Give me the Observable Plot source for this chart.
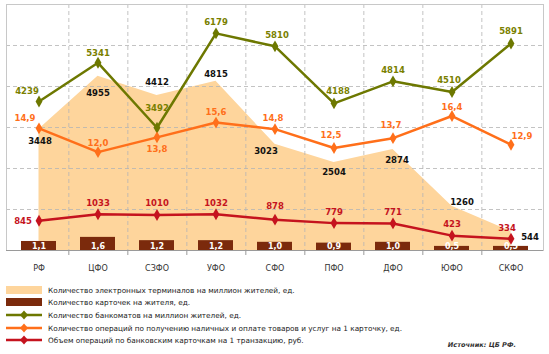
<!DOCTYPE html>
<html><head><meta charset="utf-8">
<script src="https://cdn.jsdelivr.net/npm/d3@7"></script>
<script src="https://cdn.jsdelivr.net/npm/@observablehq/plot@0.6"></script>
<style>
body{margin:0;background:#fff;font-family:"DejaVu Sans",sans-serif;}
#wrap{position:relative;width:549px;height:354px;overflow:hidden;}
#chart{position:absolute;left:0;top:0;}
.leg{position:absolute;left:6px;height:12px;display:flex;align-items:center;font-size:7.3px;color:#1a1a1a;white-space:nowrap;}
.sw{width:36px;height:12px;margin-right:6px;position:relative;}
.src{position:absolute;right:33px;top:341px;font-size:6.6px;font-style:italic;font-weight:bold;color:#333;}
</style></head><body>
<div id="wrap"><div id="chart"></div><div id="legend"></div><div class="src" id="src"></div></div>
<script>
const regions = ["РФ","ЦФО","СЗФО","УФО","СФО","ПФО","ДФО","ЮФО","СКФО"];
const terminals = [3448,4955,4412,4815,3023,2504,2874,1260,544];
const cards = [1.1,1.6,1.2,1.2,1.0,0.9,1.0,0.5,0.5];
const atms = [4239,5341,3492,6179,5810,4188,4814,4510,5891];
const operations = [14.9,12.0,13.8,15.6,14.8,12.5,13.7,16.4,12.9];
const volume = [845,1033,1010,1032,878,779,771,423,334];
const legendLabels = [
  "Количество электронных терминалов на миллион жителей, ед.",
  "Количество карточек на жителя, ед.",
  "Количество банкоматов на миллион жителей, ед.",
  "Количество операций по получению наличных и оплате товаров и услуг на 1 карточку, ед.",
  "Объем операций по банковским карточкам на 1 транзакцию, руб."
];
const source = "Источник: ЦБ РФ.";

// colors
const C = {area:"#fed59c", bar:"#7b2a0c", atm:"#6d7800", atmText:"#7a7f00", ops:"#ff6f1a", vol:"#c5131e", grid:"#b4b4b4"};

const K = 7000/30; // left (0..7000) vs right (0..30) unit ratio
const rows = regions.map((r,i)=>({region:r, terminals:terminals[i], cards:cards[i], atms:atms[i], ops:operations[i], vol:volume[i], i}));
const fmt1 = v => d3.format(".1f")(v).replace(".", ",");

// label offsets (px) per series
const atmOff = [[-12,-10],[0,-10],[0,-20],[0,-11],[2,-11],[4,-12],[0,-11],[-3,-12],[0,-12]];
const termOff = [[1,12],[0,17],[0,-13],[0,-7],[-9,7],[0,10],[4,11],[10,-4],[19,6]];
const opsOff = [[-14,-10],[0,-9],[0,12],[0,-10],[-2,-11],[-3,-13],[-2,-13],[0,-9],[11,-8]];
const volOff = [[-16,0],[0,-11],[0,-12],[0,-11],[0,-13],[0,-11],[0,-11],[0,-11],[-4,-10]];

const labelFont = {fontFamily:"DejaVu Sans", fontWeight:"bold", fontSize:8.5};
const labels = [];
rows.forEach((d,i)=>{
  labels.push(Plot.text([d],{x:"region", y:"atms", text:d=>String(d.atms), fill:C.atmText, dx:atmOff[i][0], dy:atmOff[i][1], ...labelFont}));
  labels.push(Plot.text([d],{x:"region", y:"terminals", text:d=>String(d.terminals), fill:"#111", dx:termOff[i][0], dy:termOff[i][1], ...labelFont}));
  labels.push(Plot.text([d],{x:"region", y:d=>d.ops*K, text:d=>fmt1(d.ops), fill:C.ops, dx:opsOff[i][0], dy:opsOff[i][1], ...labelFont}));
  labels.push(Plot.text([d],{x:"region", y:"vol", text:d=>String(d.vol), fill:C.vol, dx:volOff[i][0], dy:volOff[i][1], ...labelFont}));
});

const bounds = regions.slice(0,-1);
const bw = (549-6-6)/regions.length;
const gridTicks = d3.range(1,6).map(k=>k*7000/6);

const chart = Plot.plot({
  width:549, height:278,
  marginLeft:6, marginRight:6, marginTop:4, marginBottom:28,
  x:{type:"band", domain:regions, padding:0, axis:null},
  y:{domain:[0,7000], axis:null},
  style:{fontFamily:"DejaVu Sans", background:"#fff"},
  marks:[
    Plot.areaY(rows,{x:"region", y:"terminals", fill:C.area}),
    Plot.ruleY(gridTicks,{stroke:C.grid, strokeDasharray:"4,3", strokeWidth:0.8}),
    Plot.ruleX(bounds,{x:d=>d, dx:bw/2, stroke:C.grid, strokeDasharray:"4,3", strokeWidth:0.8}),
    Plot.frame({stroke:"#c8c8c8", strokeWidth:1}),
    Plot.ruleY([0],{stroke:"#9a9a9a", strokeWidth:1}),
    Plot.ruleX(bounds,{x:d=>d, dx:bw/2, y1:0, y2:0, insetBottom:-5, stroke:"#9a9a9a"}),
    Plot.barY(rows,{x:"region", y:d=>d.cards*K, fill:C.bar, insetLeft:12, insetRight:12}),
    Plot.text(rows,{x:"region", y:0, dy:-4.5, text:d=>fmt1(d.cards), fill:"#fff", ...labelFont, fontSize:8}),
    Plot.line(rows,{x:"region", y:"atms", stroke:C.atm, strokeWidth:2.5}),
    Plot.dot(rows,{x:"region", y:"atms", symbol:"diamond", r:3.6, fill:C.atm}),
    Plot.line(rows,{x:"region", y:d=>d.ops*K, stroke:C.ops, strokeWidth:2.5}),
    Plot.dot(rows,{x:"region", y:d=>d.ops*K, symbol:"diamond", r:3.6, fill:C.ops}),
    Plot.line(rows,{x:"region", y:"vol", stroke:C.vol, strokeWidth:2.5}),
    Plot.dot(rows,{x:"region", y:"vol", symbol:"diamond", r:3.6, fill:C.vol}),
    Plot.text(rows,{x:"region", y:0, dy:18, text:"region", fill:"#333", fontSize:8, fontFamily:"DejaVu Sans"}),
    ...labels
  ]
});
document.getElementById("chart").appendChild(chart);
document.getElementById("src").textContent = source;

// legend
const leg = document.getElementById("legend");
const legTops = [284,296,309,322,334];
const kinds = [["area",C.area],["bar",C.bar],["line",C.atm],["line",C.ops],["line",C.vol]];
legendLabels.forEach((t,i)=>{
  const row = document.createElement("div");
  row.className="leg"; row.style.top=legTops[i]+"px";
  const sw = document.createElement("div"); sw.className="sw";
  const [kind,col]=kinds[i];
  if(kind==="line"){
    sw.innerHTML=`<svg width="36" height="12"><line x1="0" x2="36" y1="6" y2="6" stroke="${col}" stroke-width="2.5"/><path d="M18,1.5L22,6L18,10.5L14,6Z" fill="${col}"/></svg>`;
  } else {
    sw.innerHTML=`<svg width="36" height="12"><rect x="0" y="2" width="36" height="8" fill="${col}"/></svg>`;
  }
  const tx=document.createElement("span"); tx.textContent=t;
  row.appendChild(sw); row.appendChild(tx); leg.appendChild(row);
});
</script></body></html>
